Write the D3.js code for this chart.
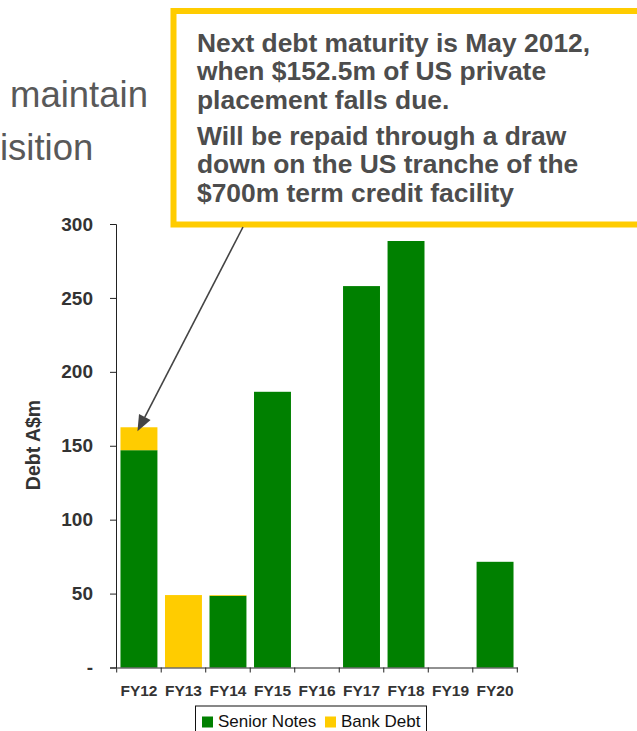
<!DOCTYPE html>
<html lang="en">

<head>
  <meta charset="utf-8">
  <title>Debt maturity profile</title>
  <script src="https://d3js.org/d3.v7.min.js"></script>
  <style>
    body {
      margin: 0;
      background: white;
    }
    text {
      font-family: "Liberation Sans", Arial, sans-serif;
    }
    .tick text {
      font-weight: bold;
      fill: #333;
    }
    .callout {
      font-size: 26.4px;
      font-weight: bold;
      fill: #4d4d4d;
    }
    .slide {
      font-size: 36.5px;
      fill: #595959;
    }
  </style>
</head>

<body>
  <div id="chart"></div>
  <script>
    var w = 637;
    var h = 731;

    var categories = ['FY12', 'FY13', 'FY14', 'FY15', 'FY16', 'FY17', 'FY18', 'FY19', 'FY20'];
    var seniorNotes = [147, 0, 48.5, 186.5, 0, 258, 288.5, 0, 71.5];
    var bankDebt = [15.5, 49, 0.5, 0, 0, 0, 0, 0, 0];
    var seriesNames = ['Senior Notes', 'Bank Debt'];
    var seriesColors = ['#008000', '#ffcc00'];
    var yTicks = [0, 50, 100, 150, 200, 250, 300];
    var yTickLabels = ['-', '50', '100', '150', '200', '250', '300'];
    var calloutLines = [
      ['Next debt maturity is May 2012,', 'when $152.5m of US private', 'placement falls due.'],
      ['Will be repaid through a draw', 'down on the US tranche of the', '$700m term credit facility']
    ];

    var rows = categories.map(function (c, i) {
      return {cat: c, senior: seniorNotes[i], bank: bankDebt[i]};
    });
    var stacked = d3.stack().keys(['senior', 'bank'])(rows);

    var x = d3.scaleBand()
      .domain(categories)
      .range([116.7, 517.3])
      .paddingInner(0.17)
      .paddingOuter(0.085);
    var y = d3.scaleLinear()
      .domain([0, 300])
      .range([667.5, 224]);

    var svg = d3.select('#chart').append('svg')
      .attr('width', w)
      .attr('height', h);

    // slide text peeking out from behind the callout
    svg.append('text').attr('class', 'slide').attr('x', 10).attr('y', 107).text('maintain');
    svg.append('text').attr('class', 'slide').attr('x', 0).attr('y', 160).text('isition');

    // bars
    svg.selectAll('g.series')
      .data(stacked)
      .enter().append('g')
      .attr('class', 'series')
      .style('fill', function (d, i) { return seriesColors[i]; })
      .selectAll('rect')
      .data(function (d) { return d; })
      .enter().append('rect')
      .attr('x', function (d) { return x(d.data.cat); })
      .attr('y', function (d) { return y(d[1]); })
      .attr('width', x.bandwidth())
      .attr('height', function (d) { return y(d[0]) - y(d[1]); });

    // y axis
    var yAxis = svg.append('g')
      .attr('transform', 'translate(116,0)')
      .call(d3.axisLeft(y)
        .tickValues(yTicks)
        .tickSize(6)
        .tickPadding(17)
        .tickFormat(function (d, i) { return yTickLabels[i]; }));
    yAxis.select('.domain').attr('stroke', '#222');
    yAxis.selectAll('.tick line').attr('stroke', '#222');
    yAxis.selectAll('.tick text').style('font-size', '19px');

    // x axis
    var xAxis = svg.append('g')
      .attr('transform', 'translate(0,' + y(0) + ')')
      .call(d3.axisBottom(x).tickSize(0));
    xAxis.select('.domain').attr('stroke', '#222');
    xAxis.selectAll('.tick text')
      .style('font-size', '15.5px')
      .attr('y', 17.5);

    var step = x.step();
    var bounds = categories.map(function (c) { return x(c) - step * x.paddingInner() / 2; });
    bounds.push(x(categories[categories.length - 1]) + x.bandwidth() + step * x.paddingInner() / 2);
    xAxis.selectAll('line.bound')
      .data(bounds)
      .enter().append('line')
      .attr('class', 'bound')
      .attr('x1', function (d) { return d; })
      .attr('x2', function (d) { return d; })
      .attr('y1', 0)
      .attr('y2', 5)
      .attr('stroke', '#222');

    // y title
    svg.append('text')
      .attr('transform', 'translate(40,445) rotate(-90)')
      .attr('text-anchor', 'middle')
      .style('font-size', '19.5px')
      .style('font-weight', 'bold')
      .style('fill', '#333')
      .text('Debt A$m');

    // legend
    var legend = svg.append('g');
    legend.append('rect')
      .attr('x', 195.5).attr('y', 706)
      .attr('width', 231).attr('height', 40)
      .attr('fill', 'white').attr('stroke', '#111');
    var legX = [202, 325];
    seriesNames.forEach(function (name, i) {
      legend.append('rect')
        .attr('x', legX[i]).attr('y', 716.5)
        .attr('width', 11).attr('height', 11)
        .attr('fill', seriesColors[i]);
      legend.append('text')
        .attr('x', legX[i] + 16).attr('y', 727)
        .style('font-size', '17px')
        .style('fill', '#111')
        .text(name);
    });

    // callout box
    svg.append('rect')
      .attr('x', 173.5).attr('y', 11)
      .attr('width', 520).attr('height', 213.5)
      .attr('fill', 'white')
      .attr('stroke', '#ffcc00')
      .attr('stroke-width', 6);

    var lineY = 51.5;
    calloutLines.forEach(function (para, p) {
      if (p > 0) lineY += 7.5;
      para.forEach(function (line) {
        svg.append('text').attr('class', 'callout')
          .attr('x', 197).attr('y', lineY).text(line);
        lineY += 28.5;
      });
    });

    // arrow to FY12 bar
    var tipX = x('FY12') + x.bandwidth() / 2 - 1.5;
    var tipY = y(seniorNotes[0] + bankDebt[0]) + 4;
    var sx = 243, sy = 227;
    var ang = Math.atan2(tipY - sy, tipX - sx);
    var len = 16, half = 6.5;
    var bx = tipX - len * Math.cos(ang), by = tipY - len * Math.sin(ang);
    svg.append('line')
      .attr('x1', sx).attr('y1', sy)
      .attr('x2', bx).attr('y2', by)
      .attr('stroke', '#444').attr('stroke-width', 1.6);
    svg.append('path')
      .attr('d', 'M' + tipX + ',' + tipY +
        'L' + (bx + half * Math.sin(ang)) + ',' + (by - half * Math.cos(ang)) +
        'L' + (bx - half * Math.sin(ang)) + ',' + (by + half * Math.cos(ang)) + 'Z')
      .attr('fill', '#444');
  </script>
</body>

</html>
